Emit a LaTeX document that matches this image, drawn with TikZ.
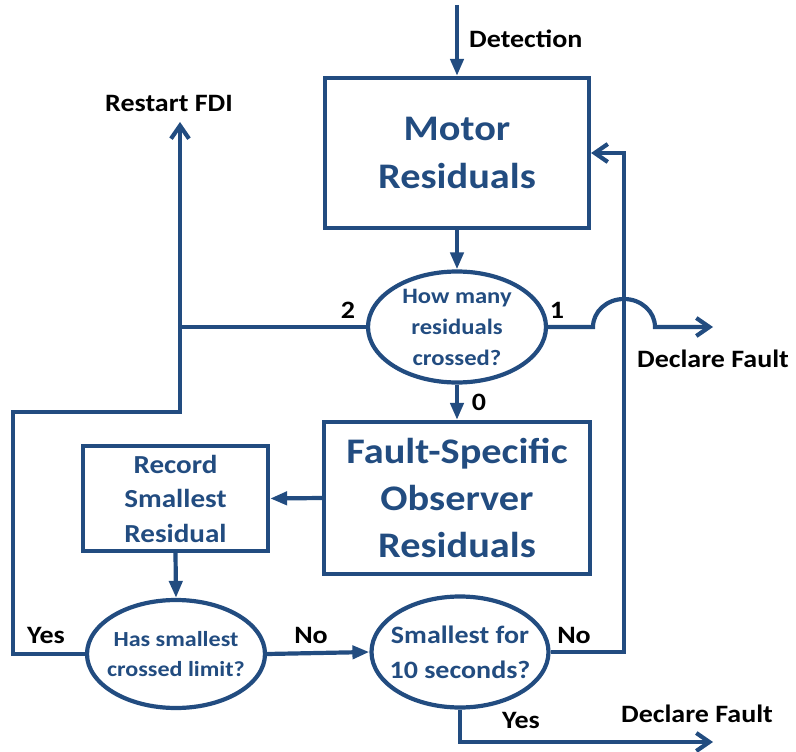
\documentclass[tikz,border=0pt]{standalone}
\usepackage{fontspec}
\setmainfont{Carlito}[FakeStretch=1.12]
\usetikzlibrary{shapes.geometric,arrows.meta}
\definecolor{flowblue}{RGB}{34,76,128}
\tikzset{
  flow/.style={draw=flowblue, line width=4.2pt},
  fa/.style={flow, -{Triangle[length=17pt,width=13pt]}},
  oa/.style={flow, -{Straight Barb[length=13pt,width=18pt]}},
  box/.style={draw=flowblue, line width=4.2pt, rectangle, align=center,
    text=flowblue, font=\bfseries, inner sep=0pt},
  oval/.style={draw=flowblue, line width=4.2pt, ellipse, align=center,
    text=flowblue, font=\bfseries, inner xsep=-30pt, inner ysep=-15pt},
  lbl/.style={text=black, font=\fontsize{25}{30}\selectfont\bfseries, inner sep=0pt},
}
\begin{document}
\begin{tikzpicture}[x=1pt,y=-1pt]
\useasboundingbox (0,0) rectangle (796,752);

% process boxes
\node[box, minimum width=264pt, minimum height=150pt,
  font=\fontsize{36}{48}\selectfont\bfseries] (motor) at (457,153) {Motor\\Residuals};
\node[box, minimum width=266pt, minimum height=152pt,
  font=\fontsize{36}{47}\selectfont\bfseries] (fso) at (457,498) {Fault-Specific\\Observer\\Residuals};
\node[box, minimum width=185pt, minimum height=105pt,
  font=\fontsize{26}{34.5}\selectfont\bfseries] (rec) at (175.5,498.5) {Record\\Smallest\\Residual};

% decisions
\node[oval, minimum width=178pt, minimum height=111pt,
  font=\fontsize{22}{31}\selectfont\bfseries] (how) at (457,327) {How many\\residuals\\crossed?};
\node[oval, minimum width=178pt, minimum height=108pt,
  font=\fontsize{21.5}{30}\selectfont\bfseries] (has) at (176,654) {Has smallest\\crossed limit?};
\node[oval, minimum width=177pt, minimum height=111pt,
  font=\fontsize{25}{35}\selectfont\bfseries] (small) at (460,652) {Smallest for\\10 seconds?};

% free ends of connectors
\coordinate (det) at (457,5);
\coordinate (restart) at (180,122);
\coordinate (jn) at (180,327);
\coordinate (hopL) at (593,327);
\coordinate (hopR) at (655,327);
\coordinate (out1) at (713,327);
\coordinate (out2) at (713,742);

% connectors
\draw[fa] (det) -- (motor.north);
\draw[fa] (motor.south) -- (how.north);
\draw[fa] (how.south) -- (fso.north);
\draw[fa] (fso.west) -- (rec.east);
\draw[fa] (rec.south) -- (has.north);
\draw[fa] (has.east) -- (small.west);
\draw[oa] (has.west) -- (13,654) -- (13,412) -- (180,412) -- (restart);
\draw[flow] (how.west) -- (jn);
\draw[oa] (small.east) -- (624,652) -- (624,153) -- (motor.east);
\draw[oa] (how.east) -- (hopL) arc[start angle=180, end angle=0, x radius=31pt, y radius=28pt] -- (hopR) -- (out1);
\draw[oa] (small.south) -- (small.south |- out2) -- (out2);

% labels
\node[lbl, anchor=base west] (tdet) at (469,48) {Detection};
\node[lbl, anchor=base] (trestart) at (169,112) {Restart FDI};
\node[lbl, anchor=base] (t2) at (348,318) {2};
\node[lbl, anchor=base] (t1) at (557,318) {1};
\node[lbl, anchor=base] (t0) at (479,410) {0};
\node[lbl, anchor=base] (tdf1) at (713,367) {Declare Fault};
\node[lbl, anchor=base] (tyes1) at (46,643) {Yes};
\node[lbl, anchor=base] (tno1) at (311,643) {No};
\node[lbl, anchor=base] (tno2) at (574,643) {No};
\node[lbl, anchor=base] (tyes2) at (521,728) {Yes};
\node[lbl, anchor=base] (tdf2) at (697,722) {Declare Fault};
\end{tikzpicture}
\end{document}
